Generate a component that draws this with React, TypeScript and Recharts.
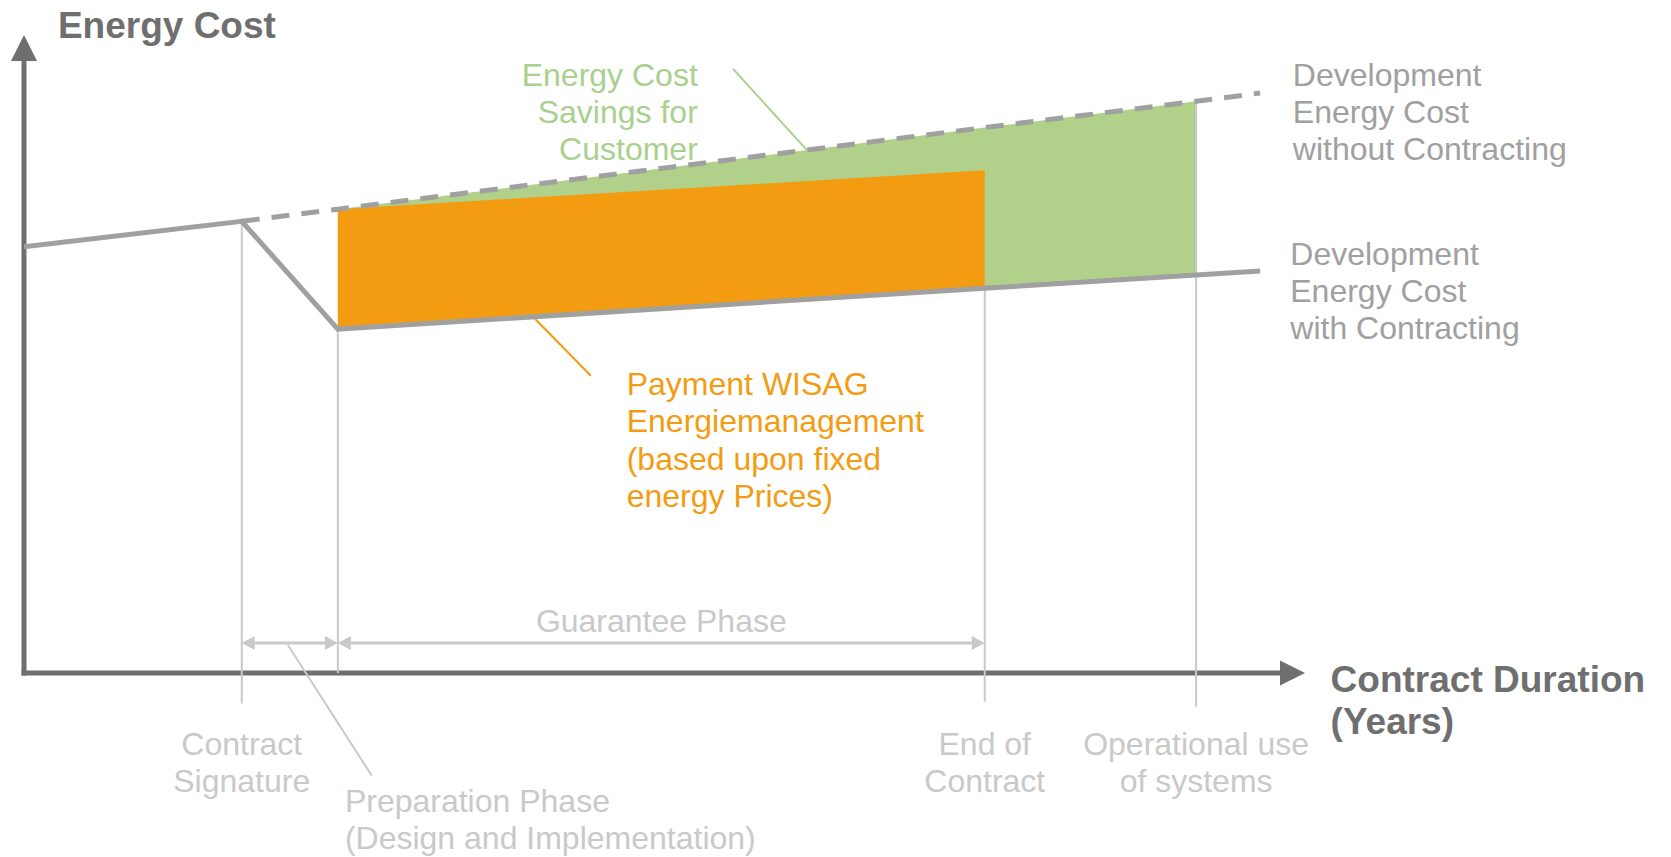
import React from 'react';
import { ComposedChart, Area, Line, XAxis, YAxis, ReferenceLine, ReferenceDot } from 'recharts';

// contract timeline (years) and cost level (index)
const years = [0, 3.4, 4.9, 15, 18.3, 19.3];
const withContracting = [66.8, 70.8, 53.9, 60.3, 62.4, 63.0];
const withoutContracting = [null, 70.8, 72.7, 85.5, 89.6, 90.9];
const paymentTop = [null, null, 72.7, 78.8, null, null];

const milestoneYears = [3.4, 4.9, 15, 18.3];
const milestoneTops = [70.8, 53.9, 60.3, 89.6];
const milestoneBottoms = [-4.8, 0, -4.5, -5.3];

const phaseLevel = 4.7;

const FONT = '"Liberation Sans", Arial, Helvetica, sans-serif';
const AXIS = '#6f6f70';
const LINE = '#a0a0a0';
const LIGHT = '#c9c9c9';
const GREEN = '#b1d18b';
const GREEN_TEXT = '#a9d08e';
const ORANGE = '#f39c12';

const withData = years.map((year, i) => ({ year, cost: withContracting[i] }));
const withoutData = years
  .map((year, i) => ({ year, cost: withoutContracting[i] }))
  .filter((d) => d.cost != null);
const savingsData = years
  .map((year, i) => ({ year, range: [withContracting[i], withoutContracting[i]] }))
  .filter((d, i) => i >= 2 && i <= 4);
const paymentData = years
  .map((year, i) => ({ year, range: [withContracting[i], paymentTop[i]] }))
  .filter((d) => d.range[1] != null);

type Note = {
  x: number;
  y: number;
  lines: string[];
  color: string;
  size?: number;
  bold?: boolean;
  anchor?: 'start' | 'middle' | 'end';
  lh?: number;
};

const notes: Note[] = [
  { x: 0.53, y: 99.5, lines: ['Energy Cost'], color: AXIS, size: 37, bold: true },
  { x: 20.4, y: -3.0, lines: ['Contract Duration', '(Years)'], color: AXIS, size: 37, bold: true, lh: 42 },
  { x: 10.52, y: 92.0, lines: ['Energy Cost', 'Savings for', 'Customer'], color: GREEN_TEXT, anchor: 'end' },
  { x: 19.81, y: 92.0, lines: ['Development', 'Energy Cost', 'without Contracting'], color: LINE },
  { x: 19.77, y: 63.9, lines: ['Development', 'Energy Cost', 'with Contracting'], color: LINE },
  {
    x: 9.41,
    y: 43.6,
    lines: ['Payment WISAG', 'Energiemanagement', '(based upon fixed', 'energy Prices)'],
    color: ORANGE,
    lh: 37.5,
  },
  { x: 9.95, y: 6.4, lines: ['Guarantee Phase'], color: LIGHT, anchor: 'middle' },
  { x: 3.4, y: -12.9, lines: ['Contract', 'Signature'], color: LIGHT, anchor: 'middle' },
  { x: 15, y: -12.9, lines: ['End of', 'Contract'], color: LIGHT, anchor: 'middle' },
  { x: 18.3, y: -12.9, lines: ['Operational use', 'of systems'], color: LIGHT, anchor: 'middle' },
  { x: 5.01, y: -21.8, lines: ['Preparation Phase', '(Design and Implementation)'], color: LIGHT },
];

const leaders = [
  { from: [11.07, 94.7], to: [12.22, 82.0], color: GREEN_TEXT },
  { from: [7.95, 55.8], to: [8.85, 46.6], color: ORANGE },
  { from: [4.12, 4.4], to: [5.43, -16.1], color: LIGHT },
];

const arrowShape =
  (color: string, width: number, len: number, half: number, both: boolean, cap: 'butt' | 'square' = 'butt') =>
  (p: any) => {
    const { x1, y1, x2, y2 } = p;
    const d = Math.hypot(x2 - x1, y2 - y1) || 1;
    const ux = (x2 - x1) / d;
    const uy = (y2 - y1) / d;
    const nx = -uy;
    const ny = ux;
    const head = (tx: number, ty: number, sx: number, sy: number) => {
      const bx = tx - sx * len;
      const by = ty - sy * len;
      return `${tx},${ty} ${bx + nx * half},${by + ny * half} ${bx - nx * half},${by - ny * half}`;
    };
    const sx = both ? x1 + ux * len : x1;
    const sy = both ? y1 + uy * len : y1;
    return (
      <g>
        <line x1={sx} y1={sy} x2={x2 - ux * len} y2={y2 - uy * len} stroke={color} strokeWidth={width} strokeLinecap={cap} />
        <polygon points={head(x2, y2, ux, uy)} fill={color} />
        {both && <polygon points={head(x1, y1, -ux, -uy)} fill={color} />}
      </g>
    );
  };

const textShape = (n: Note) => (p: any) => (
  <text
    x={p.cx}
    y={p.cy}
    fill={n.color}
    fontSize={n.size ?? 32}
    fontWeight={n.bold ? 700 : 400}
    fontFamily={FONT}
    textAnchor={n.anchor ?? 'start'}
  >
    {n.lines.map((l, i) => (
      <tspan key={i} x={p.cx} dy={i === 0 ? 0 : n.lh ?? 37}>
        {l}
      </tspan>
    ))}
  </text>
);

export default function App() {
  return (
    <div style={{ width: 1671, height: 857, background: '#fff' }}>
      <style>{'body{margin:0}'}</style>
      <ComposedChart width={1671} height={857} margin={{ top: 35, right: 366, bottom: 24.5, left: 24 }}>
        <XAxis type="number" dataKey="year" domain={[0, 20]} allowDataOverflow hide />
        <YAxis type="number" domain={[-25, 100]} allowDataOverflow hide />

        <Area
          data={savingsData}
          dataKey="range"
          type="linear"
          stroke="none"
          fill={GREEN}
          fillOpacity={1}
          isAnimationActive={false}
        />
        <Area
          data={paymentData}
          dataKey="range"
          type="linear"
          stroke="none"
          fill={ORANGE}
          fillOpacity={1}
          isAnimationActive={false}
        />

        <ReferenceLine
          segment={[{ x: 0, y: 0 }, { x: 20, y: 0 }]}
          ifOverflow="visible"
          shape={arrowShape(AXIS, 5, 25, 12.5, false, 'square')}
        />
        <ReferenceLine
          segment={[{ x: 0, y: 0 }, { x: 0, y: 100 }]}
          ifOverflow="visible"
          shape={arrowShape(AXIS, 5, 26, 13, false, 'square')}
        />

        {milestoneYears.map((m, i) => (
          <ReferenceLine
            key={`m${i}`}
            segment={[{ x: m, y: milestoneTops[i] }, { x: m, y: milestoneBottoms[i] }]}
            ifOverflow="visible"
            stroke={LIGHT}
            strokeWidth={2}
          />
        ))}

        <ReferenceLine
          segment={[{ x: milestoneYears[0], y: phaseLevel }, { x: milestoneYears[1], y: phaseLevel }]}
          ifOverflow="visible"
          shape={arrowShape(LIGHT, 3, 13, 7, true)}
        />
        <ReferenceLine
          segment={[{ x: milestoneYears[1], y: phaseLevel }, { x: milestoneYears[2], y: phaseLevel }]}
          ifOverflow="visible"
          shape={arrowShape(LIGHT, 3, 13, 7, true)}
        />

        {leaders.map((l, i) => (
          <ReferenceLine
            key={`l${i}`}
            segment={[{ x: l.from[0], y: l.from[1] }, { x: l.to[0], y: l.to[1] }]}
            ifOverflow="visible"
            stroke={l.color}
            strokeWidth={2}
          />
        ))}

        <Line
          data={withoutData}
          dataKey="cost"
          type="linear"
          stroke={LINE}
          strokeWidth={5}
          strokeDasharray="18 12"
          dot={false}
          activeDot={false}
          isAnimationActive={false}
        />
        <Line
          data={withData}
          dataKey="cost"
          type="linear"
          stroke={LINE}
          strokeWidth={5}
          dot={false}
          activeDot={false}
          isAnimationActive={false}
        />

        {notes.map((n, i) => (
          <ReferenceDot key={`n${i}`} x={n.x} y={n.y} ifOverflow="visible" shape={textShape(n)} />
        ))}
      </ComposedChart>
    </div>
  );
}
